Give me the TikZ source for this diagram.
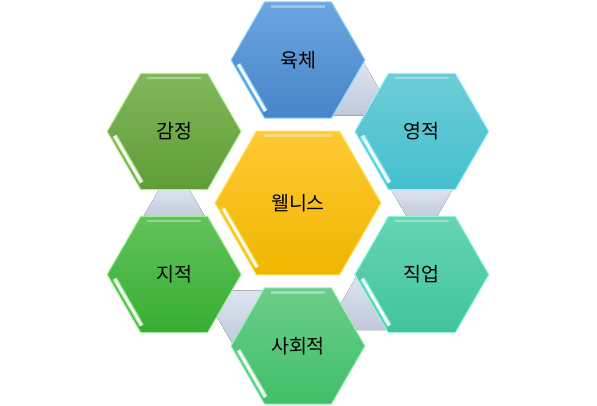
\documentclass[tikz,border=0pt]{standalone}
\usepackage{fontspec}
\newfontfamily\krfont{Noto Sans CJK KR}
\usetikzlibrary{calc}

\definecolor{bodytop}{HTML}{6CA6E0}
\definecolor{bodybot}{HTML}{4784C8}
\definecolor{bodyedge}{HTML}{8ED6FF}
\definecolor{spirittop}{HTML}{6DCDD7}
\definecolor{spiritbot}{HTML}{45BFCE}
\definecolor{spiritedge}{HTML}{9AF2FF}
\definecolor{jobtop}{HTML}{66D4B3}
\definecolor{jobbot}{HTML}{40C49B}
\definecolor{jobedge}{HTML}{96F5E0}
\definecolor{socialtop}{HTML}{6CCD8A}
\definecolor{socialbot}{HTML}{40BF68}
\definecolor{socialedge}{HTML}{9EF2BC}
\definecolor{inteltop}{HTML}{62C25A}
\definecolor{intelbot}{HTML}{36AE32}
\definecolor{inteledge}{HTML}{A0F09A}
\definecolor{emottop}{HTML}{82B85C}
\definecolor{emotbot}{HTML}{5F9C36}
\definecolor{emotedge}{HTML}{B8EE98}
\definecolor{welltop}{HTML}{FFC935}
\definecolor{wellbot}{HTML}{EFB600}
\definecolor{welledge}{HTML}{FFE35A}
\definecolor{linktop}{HTML}{DEE5F1}
\definecolor{linkbot}{HTML}{C0C8DA}

\begin{document}
\begin{tikzpicture}[x=1pt,y=-1pt,
  hexlabel/.style={font=\krfont\fontsize{19.5}{22}\selectfont,text=black},
  linkpiece/.style={top color=linktop,bottom color=linkbot,draw=none}]

\newcommand{\ringr}{143}
\newcommand{\outr}{67}
\newcommand{\midr}{83}

% one bevelled hexagon: centre, radius, top, bottom, edge colour
\newcommand{\hexcell}[5]{%
  \begin{scope}[shift={(#1)}]
  \draw[top color=#3,bottom color=#4,draw=#5,line width=1pt]
    (0:#2)--(60:#2)--(120:#2)--(180:#2)--(240:#2)--(300:#2)--cycle;
  \pgfmathsetmacro{\inr}{#2-5}
  \draw[white,opacity=.35,line width=2.5pt]
    ($(240:\inr)!.06!(300:\inr)$)--($(240:\inr)!.94!(300:\inr)$);
  \draw[#5,line width=5pt,opacity=.8]
    ($(180:\inr)!.08!(120:\inr)$)--($(180:\inr)!.95!(120:\inr)$);
  \draw[white,line width=2.5pt]
    ($(180:\inr)!.08!(120:\inr)$)--($(180:\inr)!.95!(120:\inr)$);
  \end{scope}}

\useasboundingbox (0,0) rectangle (597,406);

\coordinate (well) at (298,203);
\coordinate (body) at ($(well)+(270:\ringr)$);
\coordinate (spirit) at ($(well)+(330:\ringr)$);
\coordinate (job) at ($(well)+(30:\ringr)$);
\coordinate (social) at ($(well)+(90:\ringr)$);
\coordinate (intel) at ($(well)+(150:\ringr)$);
\coordinate (emot) at ($(well)+(210:\ringr)$);

\foreach \s/\t in {body/spirit,spirit/job,job/social,social/intel,intel/emot}{
  \coordinate (b) at ($(\s)!56pt!(\t)$);
  \coordinate (n) at ($(\s)!87pt!(\t)$);
  \fill[linkpiece] ($(b)!32pt!90:(\t)$)--($(n)!14pt!90:(\t)$)
    --($(n)!14pt!-90:(\t)$)--($(b)!32pt!-90:(\t)$)--cycle;
}

\hexcell{body}{\outr}{bodytop}{bodybot}{bodyedge}
\hexcell{spirit}{\outr}{spirittop}{spiritbot}{spiritedge}
\hexcell{job}{\outr}{jobtop}{jobbot}{jobedge}
\hexcell{social}{\outr}{socialtop}{socialbot}{socialedge}
\hexcell{intel}{\outr}{inteltop}{intelbot}{inteledge}
\hexcell{emot}{\outr}{emottop}{emotbot}{emotedge}
\hexcell{well}{\midr}{welltop}{wellbot}{welledge}

\node[hexlabel] (welltxt) at (well) {웰니스};
\node[hexlabel] (bodytxt) at (body) {육체};
\node[hexlabel] (spirittxt) at (spirit) {영적};
\node[hexlabel] (jobtxt) at (job) {직업};
\node[hexlabel] (socialtxt) at (social) {사회적};
\node[hexlabel] (inteltxt) at (intel) {지적};
\node[hexlabel] (emottxt) at (emot) {감정};

\end{tikzpicture}
\end{document}
